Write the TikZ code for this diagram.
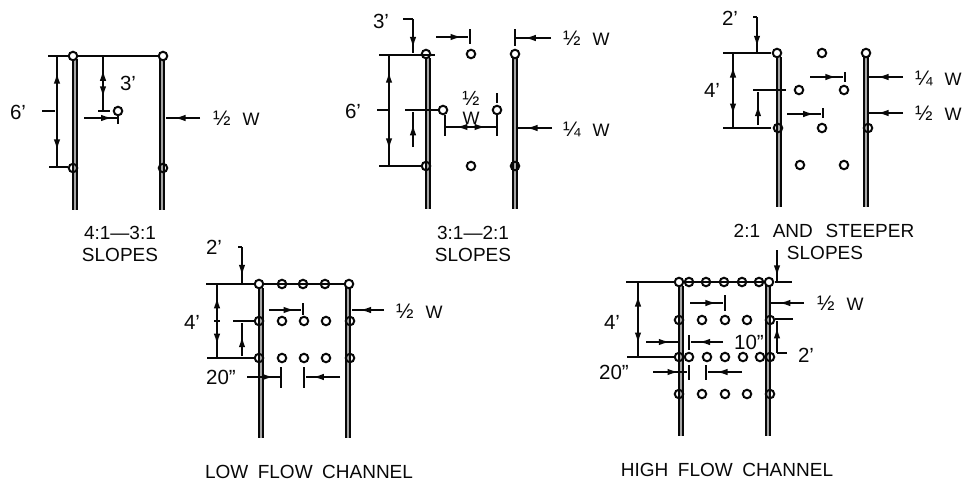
\documentclass[tikz,border=0pt]{standalone}
\usepackage{fontspec}
\setmainfont{Liberation Sans}
\usetikzlibrary{arrows.meta,decorations.markings}
\definecolor{ink}{gray}{0.03}
\newcommand{\bigfrac}[1]{{\fontsize{21}{21}\selectfont #1}}
\tikzset{
  hole/.style={circle,draw=ink,line width=2pt,inner sep=0pt,minimum size=8.5pt},
  post/.style={draw=ink,line width=1.9pt,double=gray!70,double distance=1.9pt},
  dimline/.style={draw=ink,line width=1.6pt},
  tickline/.style={draw=ink,line width=1.5pt},
  tipat/.style={postaction={decorate},decoration={markings,mark=at position #1 with {\arrow{Latex[length=11pt,width=6.5pt]}}}},
  bothtips/.style={postaction={decorate},decoration={markings,
    mark=at position #1 with {\arrowreversed{Latex[length=11pt,width=6.5pt]}},
    mark=at position 1-#1 with {\arrow{Latex[length=11pt,width=6.5pt]}}}},
  lab/.style={text=ink,inner sep=0pt,font=\fontsize{20.5}{21}\selectfont},
  widthlab/.style={text=ink,inner sep=0pt,anchor=west,font=\fontsize{18}{21}\selectfont},
  caption/.style={text=ink,inner sep=0pt,font=\fontsize{19}{19}\selectfont}
}
\begin{document}
\begin{tikzpicture}[x=1pt,y=-1pt]
\useasboundingbox (0,0) rectangle (963,483);
% posts
\foreach \x/\y/\z in {75/59/210,162/59/210,428/58/209,515/58/209,779/57/207,866/57/207,
  261/288/438,348/288/438,681/286/436,768/286/436}
  \draw[post] (\x,\y) -- (\x,\z);
% holes
\foreach \x/\y in {73/56,163/56,73/168,163/168,118/111,
  426/54,515/54,426/166,515/166,471/54,443/110,497/110,471/166,
  777/53,866/53,822/53,799/90,844/90,778/128,822/128,868/128,800/165,844/165,
  259/284,282/284,303/284,325/284,349/284,
  259/321,282/321,304/321,326/321,350/321,
  259/358,282/358,304/358,326/358,350/358,
  679/282,689/282,706/282,724/282,742/282,759/282,769/282,
  679/320,702/320,725/320,747/320,770/320,
  679/357,689/357,707/357,725/357,743/357,760/357,770/357,
  679/394,702/394,725/394,747/394,770/394}
  \node[hole] (h\x-\y) at (\x,\y) {};
% top lines
\draw[dimline] (h73-56) -- (h163-56);
\draw[dimline] (h259-284) -- (h349-284);
\draw[dimline] (h679-282) -- (h769-282);

% 4:1-3:1
\draw[tickline] (48,56) -- (68,56);
\draw[tickline] (49,167) -- (68,167);
\draw[tickline] (42,111) -- (55,111);
\draw[dimline,bothtips=0.15] (57,56) -- (57,167);
\draw[dimline,bothtips=0.25] (103,56) -- (103,111);
\draw[tickline] (98,111) -- (110,111);
\draw[tickline] (118,115) -- (118,124);
\draw[dimline,tipat=0.85] (84,118) -- (117,118);
\draw[dimline,tipat=0.75] (200,118) -- (166,118);
\node[lab] (six1) at (18,112) {6'};
\node[lab] (three1) at (128,83) {3'};
\node[widthlab] (half1) at (213,118) {\bigfrac{½}\,\,\,\,W};
\node[caption] (cap1a) at (120,233) {4:1---3:1};
\node[caption] (cap1b) at (120,255) {SLOPES};

% 3:1-2:1
\draw[tickline] (379,55) -- (435,55);
\draw[tickline] (379,166) -- (421,166);
\draw[tickline] (377,110) -- (390,110);
\draw[tickline] (405,110) -- (438,110);
\draw[dimline,bothtips=0.15] (389,55) -- (389,166);
\draw[dimline] (403,19) -- (413,19);
\draw[dimline,tipat=0.85] (413,19) -- (413,53);
\draw[dimline,tipat=0.65] (413,147) -- (413,112);
\draw[dimline,tipat=0.8] (436,37) -- (468,37);
\draw[tickline] (470,29) -- (470,44);
\draw[tickline] (515,29) -- (515,46);
\draw[dimline,tipat=0.75] (551,38) -- (516,38);
\draw[dimline,tipat=0.75] (552,128) -- (518,128);
\draw[tickline] (445,115) -- (445,136);
\draw[tickline] (497,115) -- (497,136);
\draw[tickline] (497,93) -- (497,103);
\draw[dimline,bothtips=0.22] (445,127) -- (497,127);
\node[lab] (six2) at (353,111) {6'};
\node[lab] (three2) at (381,21) {3'};
\node[lab] (half2) at (471,98) {½};
\node[widthlab,anchor=center] (wid2) at (471,118) {W};
\node[widthlab] (half2b) at (563,38) {\bigfrac{½}\,\,\,\,W};
\node[widthlab] (quart2) at (563,129) {\bigfrac{¼}\,\,\,\,W};
\node[caption] (cap2a) at (473,233) {3:1---2:1};
\node[caption] (cap2b) at (473,255) {SLOPES};

% 2:1 and steeper
\draw[tickline] (723,53) -- (771,53);
\draw[tickline] (723,128) -- (771,128);
\draw[tickline] (753,90) -- (786,90);
\draw[dimline,bothtips=0.18] (733,53) -- (733,128);
\draw[dimline] (753,17) -- (757,17);
\draw[dimline,tipat=0.85] (757,17) -- (757,52);
\draw[dimline,tipat=0.6] (758,125) -- (758,92);
\draw[dimline,tipat=0.8] (787,114) -- (821,114);
\draw[tickline] (823,108) -- (823,118);
\draw[dimline,tipat=0.8] (810,77) -- (843,77);
\draw[tickline] (845,72) -- (845,82);
\draw[dimline,tipat=0.75] (903,77) -- (869,77);
\draw[dimline,tipat=0.75] (903,113) -- (869,113);
\node[lab] (four3) at (712,90) {4'};
\node[lab] (two3) at (730,18) {2'};
\node[widthlab] (quart3) at (915,78) {\bigfrac{¼}\,\,\,\,W};
\node[widthlab] (half3) at (915,113) {\bigfrac{½}\,\,\,\,W};
\node[caption] (cap3a) at (824,231) {2:1\,\,\,\,AND\,\,\,\,STEEPER};
\node[caption] (cap3b) at (825,253) {SLOPES};

% low flow channel
\draw[tickline] (206,284) -- (254,284);
\draw[tickline] (207,358) -- (254,358);
\draw[tickline] (233,321) -- (254,321);
\draw[tickline] (214,321) -- (220,321);
\draw[dimline,bothtips=0.18] (217,284) -- (217,358);
\draw[dimline] (238,247) -- (242,247);
\draw[dimline,tipat=0.8] (242,247) -- (242,283);
\draw[dimline,tipat=0.6] (242,356) -- (242,323);
\draw[dimline,tipat=0.8] (269,310) -- (301,310);
\draw[tickline] (303,303) -- (303,315);
\draw[dimline,tipat=0.75] (384,310) -- (352,310);
\draw[dimline,tipat=0.8] (247,377) -- (280,377);
\draw[tickline] (281,367) -- (281,388);
\draw[tickline] (304,367) -- (304,388);
\draw[dimline,tipat=0.8] (340,377) -- (306,377);
\node[lab] (four4) at (192,322) {4'};
\node[lab] (two4) at (214,247) {2'};
\node[lab] (twenty4) at (221,377) {20"};
\node[widthlab] (half4) at (396,311) {\bigfrac{½}\,\,\,\,W};
\node[caption] (cap4) at (309,472) {LOW\,\,\,FLOW\,\,\,CHANNEL};

% high flow channel
\draw[tickline] (626,282) -- (674,282);
\draw[tickline] (775,282) -- (792,282);
\draw[tickline] (627,357) -- (674,357);
\draw[tickline] (775,319) -- (793,319);
\draw[dimline,bothtips=0.18] (638,282) -- (638,357);
\draw[dimline,tipat=0.85] (777,250) -- (777,281);
\draw[dimline] (777,353) -- (787,353);
\draw[dimline,tipat=0.8] (777,353) -- (777,321);
\draw[dimline,tipat=0.8] (690,303) -- (723,303);
\draw[tickline] (725,295) -- (725,311);
\draw[dimline,tipat=0.75] (804,303) -- (771,303);
\draw[dimline,tipat=0.7] (646,342) -- (680,342);
\draw[tickline] (689,335) -- (689,350);
\draw[dimline,tipat=0.75] (723,342) -- (691,342);
\draw[dimline,tipat=0.75] (653,372) -- (687,372);
\draw[tickline] (689,365) -- (689,380);
\draw[tickline] (706,365) -- (706,380);
\draw[dimline,tipat=0.75] (742,372) -- (708,372);
\node[lab] (four5) at (612,322) {4'};
\node[lab] (ten5) at (749,342) {10"};
\node[lab] (two5) at (806,355) {2'};
\node[lab] (twenty5) at (614,372) {20"};
\node[widthlab] (half5) at (817,303) {\bigfrac{½}\,\,\,\,W};
\node[caption] (cap5) at (727,470) {HIGH\,\,\,FLOW\,\,\,CHANNEL};
\end{tikzpicture}
\end{document}
